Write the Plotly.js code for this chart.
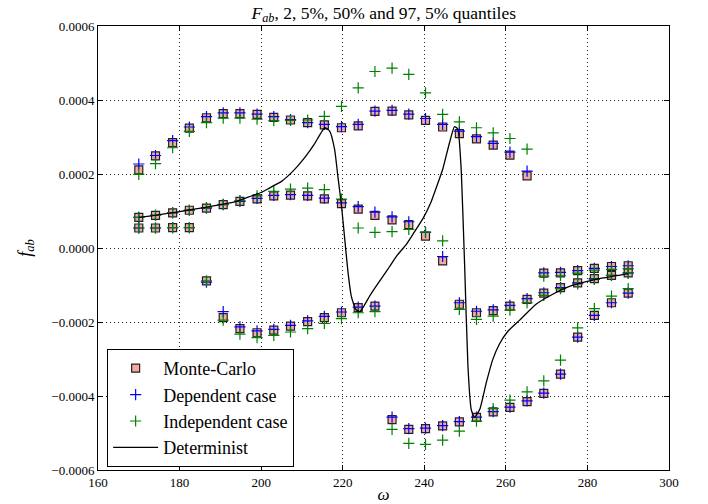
<!DOCTYPE html>
<html>
<head>
<meta charset="utf-8">
<script src="https://cdn.plot.ly/plotly-3.0.1.min.js"></script>
<style>html,body{margin:0;padding:0;background:#fff;}#chart{width:708px;height:504px;}</style>
</head>
<body>
<div id="chart"></div>
<script>
// omega values of the sampled points
var omega = [170.0, 174.1, 178.3, 182.4, 186.6, 190.7, 194.8, 199.0, 203.1, 207.2,
             211.4, 215.5, 219.7, 223.8, 227.9, 232.1, 236.2, 240.3, 244.5, 248.6,
             252.8, 256.9, 261.0, 265.2, 269.3, 273.4, 277.6, 281.7, 285.9, 290.0];

// values in units of 1e-4
var mcHigh = [2.11, 2.49, 2.85, 3.24, 3.52, 3.63, 3.63, 3.61, 3.53, 3.46,
              3.39, 3.33, 3.25, 3.30, 3.69, 3.70, 3.60, 3.45, 3.27, 3.09,
              2.95, 2.78, 2.51, 1.95, -0.68, -0.67, -0.61, -0.55, -0.50, -0.48];
var mcMid  = [0.83, 0.88, 0.95, 1.02, 1.08, 1.17, 1.26, 1.33, 1.41, 1.43,
              1.41, 1.33, 1.20, 1.05, 0.88, 0.76, 0.63, 0.32, -0.35, -1.52,
              -1.75, -1.69, -1.57, -1.39, -1.22, -1.07, -0.94, -0.83, -0.74, -0.67];
var mcLow  = [0.54, 0.54, 0.55, 0.55, -0.89, -1.88, -2.18, -2.29, -2.22, -2.11,
              -1.99, -1.88, -1.75, -1.61, -1.57, -4.64, -4.90, -4.88, -4.81, -4.70,
              -4.58, -4.43, -4.31, -4.15, -3.93, -3.41, -2.41, -1.82, -1.48, -1.22];

var depHigh = [2.27, 2.50, 2.90, 3.27, 3.55, 3.65, 3.65, 3.62, 3.55, 3.47,
               3.39, 3.34, 3.28, 3.34, 3.70, 3.72, 3.62, 3.50, 3.34, 3.16,
               3.01, 2.83, 2.59, 2.08, -0.67, -0.66, -0.61, -0.55, -0.50, -0.48];
var depMid  = [0.83, 0.88, 0.95, 1.02, 1.08, 1.17, 1.26, 1.34, 1.42, 1.44,
               1.42, 1.35, 1.22, 1.12, 0.97, 0.84, 0.71, 0.42, -0.23, -1.48,
               -1.71, -1.67, -1.55, -1.37, -1.21, -1.07, -0.94, -0.83, -0.74, -0.67];
var depLow  = [0.54, 0.54, 0.55, 0.55, -0.92, -1.72, -2.13, -2.24, -2.20, -2.09,
               -1.97, -1.85, -1.73, -1.60, -1.57, -4.57, -4.88, -4.87, -4.80, -4.69,
               -4.57, -4.42, -4.30, -4.13, -3.92, -3.41, -2.41, -1.82, -1.48, -1.22];

var indHigh = [1.99, 2.28, 2.71, 3.15, 3.39, 3.51, 3.51, 3.48, 3.44, 3.45,
               3.46, 3.56, 3.83, 4.33, 4.77, 4.86, 4.69, 4.19, 3.61, 3.41,
               3.25, 3.11, 2.96, 2.67, -0.76, -0.75, -0.68, -0.60, -0.58, -0.56];
var indMid  = [0.83, 0.88, 0.96, 1.02, 1.09, 1.18, 1.28, 1.41, 1.53, 1.59,
               1.62, 1.58, 1.32, 0.54, 0.42, 0.44, 0.50, 0.43, 0.19, -1.66,
               -1.93, -1.84, -1.68, -1.48, -1.28, -1.10, -0.97, -0.85, -0.74, -0.68];
var indLow  = [0.54, 0.54, 0.55, 0.55, -0.89, -1.95, -2.33, -2.42, -2.36, -2.27,
               -2.18, -2.04, -1.91, -1.75, -1.72, -4.90, -5.28, -5.31, -5.19, -4.95,
               -4.68, -4.34, -4.11, -3.89, -3.59, -3.03, -2.16, -1.64, -1.30, -1.10];

// deterministic curve (units of 1e-4)
var detOmega = [170, 174, 178, 182, 186, 190, 194, 197, 200, 202, 205, 207, 209, 211, 213,
                214.5, 215.6, 216.8, 218, 218.8, 219.7, 220.5, 221.3, 222.1, 223.2, 224.2,
                225.3, 226.6, 228.2, 229.9, 231.5, 233.2, 235.6, 237.5, 239.7, 241.5, 243,
                244.5, 246.2, 247.4, 248.2, 249, 249.9, 250.7, 251.5, 252.3, 253.6, 255.2,
                256.8, 258.4, 260.5, 263.4, 267.4, 271.5, 275.6, 279.7, 283.8, 290];
var detVal = [0.83, 0.88, 0.95, 1.02, 1.09, 1.17, 1.26, 1.38, 1.50, 1.62, 1.80, 1.99, 2.22, 2.49, 2.80,
              3.08, 3.25, 3.16, 2.67, 1.95, 1.14, 0.24, -0.66, -1.30, -1.66, -1.72,
              -1.55, -1.30, -1.03, -0.76, -0.50, -0.22, 0.10, 0.42, 0.80, 1.20, 1.65,
              2.12, 2.85, 3.28, 3.22, 2.22, -0.49, -3.19, -4.36, -4.58, -4.36, -3.64,
              -3.01, -2.60, -2.25, -1.95, -1.52, -1.25, -1.04, -0.91, -0.81, -0.69];

var legendNames = ['Monte-Carlo', 'Dependent case', 'Independent case', 'Determinist'];
var xTicks = [160, 180, 200, 220, 240, 260, 280, 300];
var yTicks = [-0.0006, -0.0004, -0.0002, 0.0, 0.0002, 0.0004, 0.0006];

function sc(a) { return a.map(function (v) { return v * 1e-4; }); }

var serif = 'Liberation Serif, Times New Roman, serif';
var traces = [];

function addGroup(series, name, marker) {
  series.forEach(function (s, i) {
    traces.push({
      type: 'scatter', mode: 'markers', x: omega, y: sc(s),
      name: name, legendgroup: name, showlegend: i === 0,
      marker: marker, hoverinfo: 'x+y'
    });
  });
}

addGroup([mcHigh, mcMid, mcLow], legendNames[0],
  {symbol: 'square', size: 8, color: '#f3aca4', line: {color: 'rgba(0,0,0,0.85)', width: 1.2}});
addGroup([depHigh, depMid, depLow], legendNames[1],
  {symbol: 'cross-thin', size: 8, color: '#0000ff', line: {color: '#0000ff', width: 1.2}});
addGroup([indHigh, indMid, indLow], legendNames[2],
  {symbol: 'cross-thin', size: 8, color: '#008000', line: {color: '#008000', width: 1.2}});

traces.push({
  type: 'scatter', mode: 'lines', x: detOmega, y: sc(detVal), name: legendNames[3],
  line: {color: '#000000', width: 1.3, shape: 'spline', smoothing: 0.5}
});

var axisCommon = {
  showline: true, linecolor: '#000', linewidth: 1, mirror: 'allticks',
  ticks: 'inside', ticklen: 5, tickcolor: '#000', tickwidth: 1,
  showgrid: true, gridcolor: '#222', gridwidth: 1, griddash: '1px,3px',
  zeroline: false, tickfont: {family: serif, size: 13, color: '#000'}
};

var layout = {
  width: 708, height: 504,
  margin: {l: 98, r: 39, t: 26, b: 34},
  paper_bgcolor: '#fff', plot_bgcolor: '#fff',
  font: {family: serif, color: '#000'},
  title: {
    text: '<i>F</i><sub><i>ab</i></sub>, 2, 5%, 50% and 97, 5% quantiles',
    font: {family: serif, size: 17.5, color: '#000'},
    x: 0.542, xanchor: 'center', y: 0.975, yanchor: 'middle'
  },
  xaxis: Object.assign({}, axisCommon, {
    range: [160, 300], tickvals: xTicks, ticktext: xTicks.map(String),
    title: {text: '<i>ω</i>', font: {family: serif, size: 17}, standoff: 0},
    automargin: false
  }),
  yaxis: Object.assign({}, axisCommon, {
    range: [-0.0006, 0.0006], tickvals: yTicks,
    ticktext: yTicks.map(function (v) { var t = Math.abs(v).toFixed(4); return v < 0 ? '\u2212' + t : t; }),
    title: {text: '<i>f</i><sub><i>ab</i></sub>', font: {family: serif, size: 18}, standoff: 15},
    automargin: false
  }),
  legend: {
    x: 0.016, y: 0.2725, xanchor: 'left', yanchor: 'top',
    bgcolor: '#fff', bordercolor: '#000', borderwidth: 1,
    font: {family: serif, size: 18, color: '#000'},
    itemwidth: 45, tracegroupgap: 0,
    entrywidth: 145, entrywidthmode: 'pixels'
  },
  showlegend: true
};

Plotly.newPlot('chart', traces, layout, {displayModeBar: false, staticPlot: true});
</script>
</body>
</html>
